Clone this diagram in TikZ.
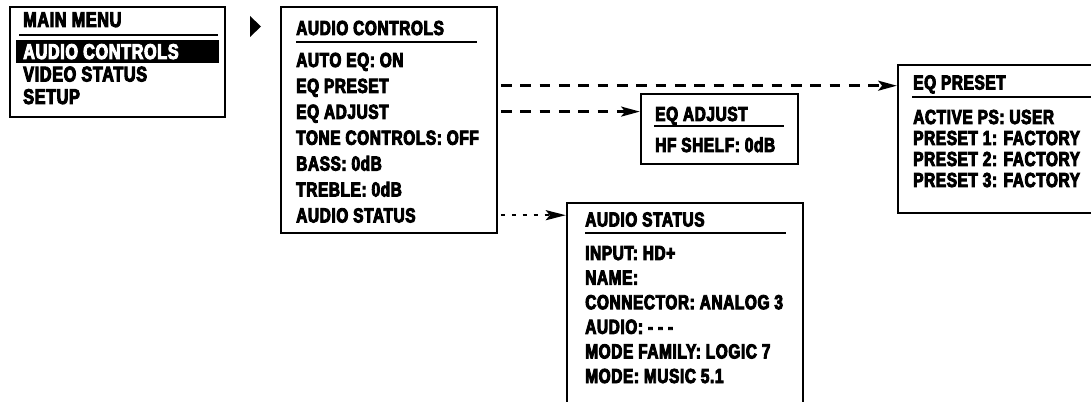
\documentclass[tikz,border=0pt]{standalone}
\usepackage{fontspec}
\newfontfamily\menufont[FakeStretch=0.76,FakeBold=4.5,LetterSpace=3]{Liberation Sans}
\usetikzlibrary{arrows.meta,fit}

\tikzset{
  menubox/.style={draw, line width=1.8pt, inner sep=0pt},
  menuline/.style={anchor=base west, inner sep=0pt, text height=10.8pt, text depth=0pt,
    font=\menufont\bfseries\fontsize{15.2}{18}\selectfont},
  mainline/.style={menuline, text height=11.5pt,
    font=\menufont\bfseries\fontsize{16}{19}\selectfont},
  titlerule/.style={line width=1.8pt},
  dashlink/.style={line width=1.8pt, dash pattern=on 8pt off 6.5pt, shorten <=2pt,
    -{Stealth[length=14pt,width=7.5pt,inset=3pt]}},
  dotlink/.style={line width=1.8pt, dash pattern=on 3.2pt off 5pt, shorten <=2pt,
    -{Stealth[length=15pt,width=7.5pt,inset=3pt]}}
}

\begin{document}
\begin{tikzpicture}[x=0.75pt, y=-0.75pt]
\clip (0,0) rectangle (1091,402);
%
% main menu
\node[menubox, fit={(10,7) (225,117)}] (mm) {};
\node[mainline] (mm-t) at (23,27) {MAIN MENU};
\draw[titlerule] (19,35) -- (218,35);
\fill (16,40) rectangle (219,63);
\node[mainline, text=white] (mm-1) at (23,59) {AUDIO CONTROLS};
\node[mainline] (mm-2) at (23,81.5) {VIDEO STATUS};
\node[mainline] (mm-3) at (23,104) {SETUP};
%
% selection marker
\fill (250,16) -- (261,26.5) -- (250,37) -- cycle;
%
% audio controls
\node[menubox, fit={(281,7) (497,233)}] (ac) {};
\node[menuline] (ac-t) at (296,35) {AUDIO CONTROLS};
\draw[titlerule] (296,42) -- (477,42);
\foreach \txt [count=\i, evaluate=\i as \yb using 67+25.9*(\i-1)] in
  {AUTO EQ: ON, EQ PRESET, EQ ADJUST, TONE CONTROLS: OFF, BASS: 0dB, TREBLE: 0dB, AUDIO STATUS}
  \node[menuline] (ac-\i) at (296,\yb) {\txt};
%
% eq adjust
\node[menubox, fit={(641,94) (798,164)}] (ea) {};
\node[menuline] (ea-t) at (655,121) {EQ ADJUST};
\draw[titlerule] (654,126) -- (784,126);
\node[menuline] (ea-1) at (655,152) {HF SHELF: 0dB};
%
% eq preset (runs off the right edge)
\node[menubox, fit={(898,65) (1110,213)}] (ep) {};
\node[menuline] (ep-t) at (913,89.5) {EQ PRESET};
\draw[titlerule] (912,97) -- (1100,97);
\foreach \txt [count=\i, evaluate=\i as \yb using 124+21*(\i-1)] in
  {ACTIVE PS: USER, PRESET 1: FACTORY, PRESET 2: FACTORY, PRESET 3: FACTORY}
  \node[menuline] (ep-\i) at (913,\yb) {\txt};
%
% audio status (runs off the bottom edge)
\node[menubox, fit={(567,203) (803,430)}] (as) {};
\node[menuline] (as-t) at (585,226.5) {AUDIO STATUS};
\draw[titlerule] (585,233) -- (786,233);
\foreach \txt [count=\i, evaluate=\i as \yb using 260+24.6*(\i-1)] in
  {INPUT: HD+, NAME:, CONNECTOR: ANALOG 3, AUDIO: - - -, MODE FAMILY: LOGIC 7, MODE: MUSIC 5.1}
  \node[menuline] (as-\i) at (585,\yb) {\txt};
%
% links to the sub menus
\draw[dashlink] (ac.east |- ac-2) -- (ep.west |- ac-2);
\draw[dashlink] (ac.east |- ac-3) -- (ea.west |- ac-3);
\draw[dotlink] (ac.east |- ac-7) -- (as.west |- ac-7);
\end{tikzpicture}
\end{document}
